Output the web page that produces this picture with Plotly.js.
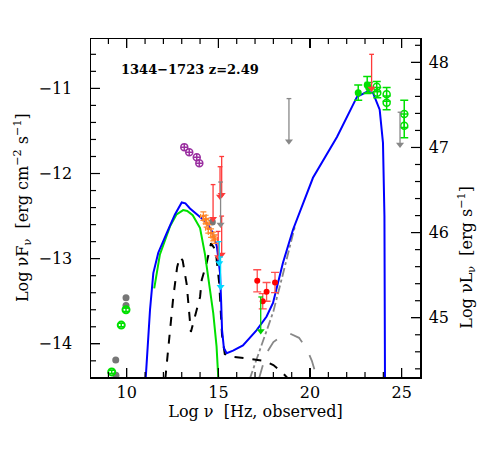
<!DOCTYPE html>
<html>
<head>
<meta charset="utf-8">
<script src="https://cdn.plot.ly/plotly-3.0.1.min.js"></script>
<style>body{margin:0;background:#fff}</style>
</head>
<body>
<div id="sed" style="width:491px;height:463px"></div>
<script>
// model components (log nu, log nuFnu)
let blueX = [11.03, 11.15, 11.27, 11.45, 11.72, 12.18, 12.63, 13.0, 13.2, 13.45, 13.75, 14.05, 14.38, 14.7, 14.92, 15.09, 15.15, 15.2, 15.3, 15.45, 15.8, 16.34, 17.09, 17.63, 17.98, 18.52, 19.07, 20.16, 21.47, 22.56, 23.1, 23.43, 23.8, 23.98, 24.06, 24.09]
let blueY = [-14.42, -13.95, -13.6, -13.17, -12.93, -12.7, -12.48, -12.34, -12.35, -12.41, -12.46, -12.52, -12.58, -12.7, -12.86, -13.17, -13.5, -13.84, -14.05, -14.11, -14.08, -14.02, -13.84, -13.68, -13.52, -13.05, -12.66, -12.05, -11.57, -11.10, -11.04, -11.05, -11.25, -11.64, -12.5, -14.42]

let greenX = [11.5, 11.81, 12.36, 12.72, 13.08, 13.3, 13.6, 14.0, 14.27, 14.44, 14.64, 14.72, 14.9, 15.0]
let greenY = [-13.35, -12.95, -12.62, -12.48, -12.43, -12.44, -12.49, -12.64, -12.95, -13.21, -13.48, -13.64, -14.03, -14.42]

let blackX = [12.1, 12.27, 12.54, 12.75, 12.9, 13.05, 13.27, 13.5, 13.8, 14.0, 14.09, 14.36, 14.6, 14.85, 15.05, 15.2, 15.35, 15.6, 16.5, 17.5, 18.0, 18.5, 18.85]
let blackY = [-14.42, -14.03, -13.45, -13.1, -12.98, -13.02, -13.3, -13.86, -13.6, -13.45, -13.25, -13.05, -12.82, -12.9, -13.3, -13.9, -14.12, -14.15, -14.17, -14.2, -14.25, -14.34, -14.42]

let dashdotX = [16.7, 17.1, 17.5, 18.0, 18.5, 19.0, 19.2]
let dashdotY = [-14.42, -14.17, -13.92, -13.62, -13.2, -12.75, -12.6]

let coronaX = [17.2, 17.6, 18.0, 18.5, 18.9, 19.4, 19.8, 20.1, 20.4]
let coronaY = [-14.42, -14.12, -13.98, -13.9, -13.88, -13.93, -14.05, -14.2, -14.42]

// data points
let purpleX = [13.14, 13.41, 13.82, 13.96]
let purpleY = [-11.69, -11.75, -11.81, -11.88]

let greyX = [9.96, 9.96, 9.40, 9.41, 14.67]
let greyY = [-13.46, -13.55, -14.19, -14.37, -12.57]

let radioX = [9.96, 9.70, 9.18]
let radioY = [-13.6, -13.78, -14.33]

let optX = [14.18, 14.3, 14.36, 14.45, 14.6, 14.72, 14.8]
let optY = [-12.5, -12.54, -12.58, -12.65, -12.7, -12.74, -12.77]

let xrayX = [17.12, 17.42, 17.63, 18.09]
let xrayY = [-13.26, -13.50, -13.39, -13.28]
let xrayErr = [0.13, 0.09, 0.11, 0.12]

let fermiX = [22.63, 23.12, 23.2]
let fermiY = [-11.05, -10.96, -10.99]
let fermiErr = [0.09, 0.1, 0.06]

let gamX = [23.64, 23.67, 24.18, 24.18, 25.14, 25.14]
let gamY = [-10.98, -11.05, -11.07, -11.17, -11.3, -11.44]
let gamErr = [0.06, 0.06, 0.08, 0.08, 0.16, 0.14]

// upper limits: top value, arrow length
let ulRedX = [15.18, 15.09, 14.71, 15.18, 14.99, 23.36]
let ulRedY = [-11.8, -11.92, -12.13, -12.5, -12.68, -10.6]
let ulRedL = [0.45, 0.35, 0.4, 0.45, 0.3, 0.4]
let ulGreyX = [15.12, 18.85, 24.91]
let ulGreyY = [-12.1, -11.12, -11.28]
let ulGreyL = [0.5, 0.5, 0.38]
let ulCyanX = [15.05, 15.12]
let ulCyanY = [-12.8, -12.98]
let ulCyanL = [0.25, 0.35]
let ulGreenX = [17.31]
let ulGreenY = [-13.45]
let ulGreenL = [0.4]

let OFFSET = 58.694  // log nuL - log nuFnu
let XR = [8.05, 26], YR = [-14.39, -10.42]
let serif = 'DejaVu Serif'

// upper limit = cap + stem + arrow head
function ulTraces(xs, ys, ls, color) {
  let cx = [], cy = [], sx = [], sy = []
  xs.forEach((v, i) => {
    cx.push(v - 0.13, v + 0.13, null); cy.push(ys[i], ys[i], null)
    sx.push(v, v, null); sy.push(ys[i], ys[i] - ls[i], null)
  })
  return [
    {x: cx, y: cy, mode: 'lines', line: {color: color, width: 1.3}, hoverinfo: 'skip'},
    {x: sx, y: sy, mode: 'lines', line: {color: color, width: 1.3}, hoverinfo: 'skip'},
    {x: xs, y: ys.map((v, i) => v - ls[i]), mode: 'markers', hoverinfo: 'skip',
      marker: {symbol: 'triangle-down', size: 7, color: color}}
  ]
}

// tick marks as shapes (inside, all four sides)
function tickShapes() {
  let s = [], ln = {color: '#000', width: 1.2}
  for (let v = 9; v <= 25; v++) {
    let len = v % 5 === 0 ? 9 : 5
    s.push({type: 'line', xref: 'x', yref: 'paper', ysizemode: 'pixel', yanchor: 0, x0: v, x1: v, y0: 0, y1: len, line: ln})
    s.push({type: 'line', xref: 'x', yref: 'paper', ysizemode: 'pixel', yanchor: 1, x0: v, x1: v, y0: 0, y1: -len, line: ln})
  }
  for (let k = -72; k <= -52; k++) {
    let v = k / 5
    if (v < YR[0] || v > YR[1]) continue
    let len = k % 5 === 0 ? 9 : 5
    s.push({type: 'line', xref: 'paper', yref: 'y', xsizemode: 'pixel', xanchor: 0, x0: 0, x1: len, y0: v, y1: v, line: ln})
  }
  for (let k = 221; k <= 242; k++) {
    let v = k / 5
    if (v < YR[0] + OFFSET || v > YR[1] + OFFSET) continue
    let len = k % 5 === 0 ? 9 : 5
    s.push({type: 'line', xref: 'paper', yref: 'y2', xsizemode: 'pixel', xanchor: 1, x0: 0, x1: -len, y0: v, y1: v, line: ln})
  }
  return s
}

let traces = [
  {x: coronaX, y: coronaY, mode: 'lines', line: {color: '#888', width: 1.8, dash: 'longdash'}},
  {x: dashdotX, y: dashdotY, mode: 'lines', line: {color: '#888', width: 1.8, dash: 'dashdot'}},
  {x: blackX, y: blackY, mode: 'lines', line: {color: '#000', width: 2, dash: 'dash'}},
  {x: greenX, y: greenY, mode: 'lines', line: {color: '#00e000', width: 2}},
  {x: blueX, y: blueY, mode: 'lines', line: {color: '#0000ff', width: 2}},
  {x: purpleX, y: purpleY, mode: 'markers', marker: {symbol: 'circle-cross-open', size: 7, color: '#9a2fa0', line: {width: 1.5}}},
  {x: greyX, y: greyY, mode: 'markers', marker: {symbol: 'circle', size: 7, color: '#777'}},
  {x: radioX, y: radioY, mode: 'markers', marker: {symbol: 'circle-open', size: 7, color: '#00e000', line: {width: 2}},
    error_y: {type: 'constant', value: 0.02, color: '#00e000', width: 3, thickness: 1.5}},
  {x: optX, y: optY, mode: 'markers', marker: {symbol: 'circle', size: 3, color: '#ff7f20'},
    error_x: {type: 'constant', value: 0.15, color: '#ff8a30', width: 2, thickness: 1.2},
    error_y: {type: 'constant', value: 0.05, color: '#ff8a30', width: 3, thickness: 1.2}},
  {x: xrayX, y: xrayY, mode: 'markers', marker: {symbol: 'circle', size: 6, color: '#ff0000'},
    error_y: {type: 'data', array: xrayErr, color: '#ff5050', width: 4, thickness: 1.3}},
  {x: fermiX, y: fermiY, mode: 'markers', marker: {symbol: 'circle', size: 7, color: '#00e000'},
    error_y: {type: 'data', array: fermiErr, color: '#00e000', width: 4, thickness: 1.5}},
  {x: gamX, y: gamY, mode: 'markers', marker: {symbol: 'circle-open', size: 7, color: '#00e000', line: {width: 1.5}},
    error_y: {type: 'data', array: gamErr, color: '#00e000', width: 4, thickness: 1.5}}
].concat(
  ulTraces(ulRedX, ulRedY, ulRedL, '#ff3a3a'),
  ulTraces(ulGreyX, ulGreyY, ulGreyL, '#888'),
  ulTraces(ulCyanX, ulCyanY, ulCyanL, '#00d8ff'),
  ulTraces(ulGreenX, ulGreenY, ulGreenL, '#00d000'),
  [{x: [null], y: [null], yaxis: 'y2', mode: 'lines'}]
)

let annots = [
  {text: '1344\u22121723 z=2.49', x: 13.45, y: -10.78, xref: 'x', yref: 'y', showarrow: false,
    font: {family: serif, size: 13, color: '#000', weight: 'bold'}},
  {text: 'Log \u03bdF<sub>\u03bd</sub>  [erg cm<sup>\u22122</sup> s<sup>\u22121</sup>]', textangle: -90,
    x: 0, y: 0.5, xref: 'paper', yref: 'paper', xanchor: 'center', yanchor: 'middle', xshift: -69,
    showarrow: false, font: {family: serif, size: 16, color: '#000'}},
  {text: 'Log \u03bdL<sub>\u03bd</sub>  [erg s<sup>\u22121</sup>]', textangle: -90,
    x: 1, y: 0.353, xref: 'paper', yref: 'paper', xanchor: 'center', yanchor: 'middle', xshift: 47,
    showarrow: false, font: {family: serif, size: 16, color: '#000'}}
]

let axisStyle = {
  showgrid: false, zeroline: false, showline: true, linecolor: '#000', linewidth: 1.5,
  ticks: 'inside', tickcolor: '#000', tickwidth: 1.2, ticklen: 9,
  tickfont: {family: serif, size: 16, color: '#000'}
}

let layout = {
  width: 491, height: 463,
  margin: {l: 91, r: 71, t: 39, b: 86},
  showlegend: false,
  xaxis: Object.assign({}, axisStyle, {
    range: XR, tick0: 0, dtick: 5, mirror: 'ticks',
    title: {text: 'Log \u03bd  [Hz, observed]', standoff: 4, font: {family: serif, size: 16, color: '#000'}}
  }),
  yaxis: Object.assign({}, axisStyle, {
    range: YR, tick0: 0, dtick: 1, ticklabelstandoff: 14
  }),
  yaxis2: Object.assign({}, axisStyle, {
    overlaying: 'y', side: 'right', range: [YR[0] + OFFSET, YR[1] + OFFSET],
    tick0: 0, dtick: 1, ticklabelstandoff: 4
  }),
  shapes: tickShapes(),
  annotations: annots
}

Plotly.newPlot('sed', traces, layout, {displayModeBar: false, staticPlot: true})
</script>
</body>
</html>
